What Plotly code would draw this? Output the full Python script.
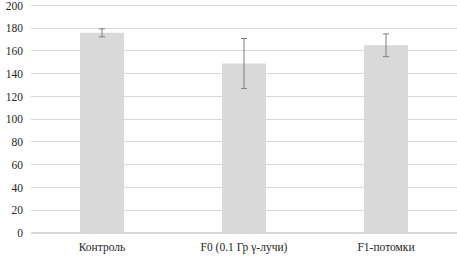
import plotly.graph_objects as go

categories = ["Контроль", "F0 (0.1 Гр γ-лучи)", "F1-потомки"]
values = [176, 149, 165]
errors = [3.5, 22, 10]
y_ticks = [0, 20, 40, 60, 80, 100, 120, 140, 160, 180, 200]

fig = go.Figure(go.Bar(
    x=categories, y=values,
    marker=dict(color="#d9d9d9", line=dict(width=0)),
    error_y=dict(type="data", array=errors, color="#7f7f7f", thickness=1, width=3),
))
fig.update_layout(
    width=457, height=256,
    margin=dict(l=31, r=0, t=4, b=23, autoexpand=False),
    paper_bgcolor="white", plot_bgcolor="white",
    bargap=0.69, showlegend=False,
    font=dict(family="Liberation Serif", size=11.5, color="#262626"),
)
fig.update_yaxes(range=[0, 201.3], tickvals=y_ticks, showgrid=True, gridcolor="#d9d9d9",
                 gridwidth=1, zeroline=True, zerolinecolor="#d9d9d9", ticks="", showline=False,
                 automargin=False, ticklabeloverflow="allow", ticklabelstandoff=7)
fig.update_xaxes(showline=False, ticks="", automargin=False, ticklabelstandoff=5)
fig.write_html("out.html", config={"displayModeBar": False},
               post_script="document.body.style.margin='0';document.body.style.padding='0';")
